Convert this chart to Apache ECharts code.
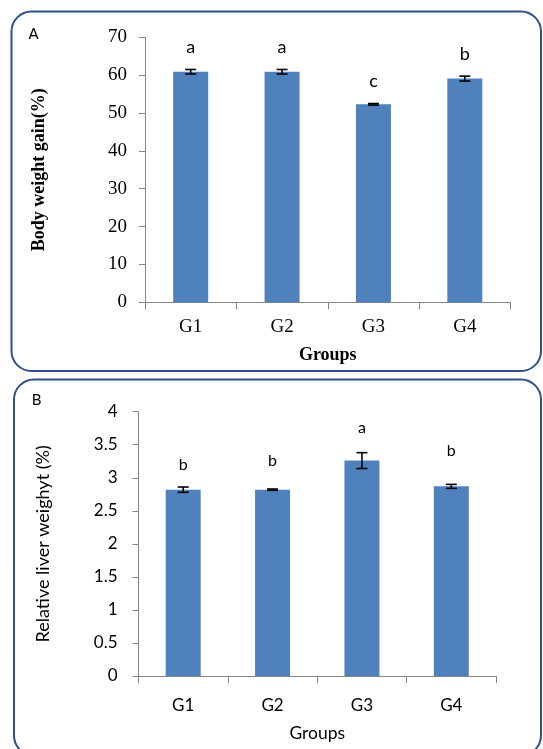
<!DOCTYPE html>
<html>
<head>
<meta charset="utf-8">
<script src="https://cdn.jsdelivr.net/npm/echarts@6/dist/echarts.min.js"></script>
<style>
  html, body { margin: 0; padding: 0; background: #ffffff; }
  #chart { width: 543px; height: 749px; }
</style>
</head>
<body>
<div id="chart"></div>
<script>
// Treatment groups shared by both panels
const groups = ['G1', 'G2', 'G3', 'G4'];

// Panel A: body weight gain (%), mean and error
const weightGain = [60.9, 60.9, 52.3, 59.1];
const weightGainErr = [0.6, 0.6, 0.2, 0.65];
const weightGainLetters = ['a', 'a', 'c', 'b'];
const weightGainTicks = [0, 10, 20, 30, 40, 50, 60, 70];

// Panel B: relative liver weight (%), mean and error
const liverWeight = [2.82, 2.82, 3.26, 2.87];
const liverWeightErr = [0.04, 0.01, 0.12, 0.03];
const liverWeightLetters = ['b', 'b', 'a', 'b'];
const liverWeightTicks = [0, 0.5, 1, 1.5, 2, 2.5, 3, 3.5, 4];

// Pixel gap between the top of each error bar and its significance letter
const letterGapA = [13, 13, 13, 13];
const letterGapB = [14, 20, 17, 26];

const BAR_COLOR = '#4F81BD';
const AXIS_COLOR = '#868686';
const FRAME_COLOR = '#2F4F8F';
const SERIF = '"Liberation Serif", "Times New Roman", serif';
const SANS = 'Lato, "Open Sans", sans-serif';

function errorBars(axisIndex, values, errs) {
  return {
    type: 'custom',
    xAxisIndex: axisIndex,
    yAxisIndex: axisIndex,
    z: 5,
    silent: true,
    encode: { x: 0, y: 1 },
    data: values.map((v, i) => [i, v, errs[i]]),
    renderItem(params, api) {
      const i = api.value(0), v = api.value(1), e = api.value(2);
      const top = api.coord([i, v + e]);
      const bot = api.coord([i, v - e]);
      const hw = 5.5;
      const st = { stroke: '#000000', lineWidth: 1.6 };
      return {
        type: 'group',
        children: [
          { type: 'line', shape: { x1: top[0], y1: top[1], x2: bot[0], y2: bot[1] }, style: st },
          { type: 'line', shape: { x1: top[0] - hw, y1: top[1], x2: top[0] + hw, y2: top[1] }, style: st },
          { type: 'line', shape: { x1: bot[0] - hw, y1: bot[1], x2: bot[0] + hw, y2: bot[1] }, style: st }
        ]
      };
    }
  };
}

function letters(axisIndex, values, errs, marks, gaps, fontSize) {
  return {
    type: 'custom',
    xAxisIndex: axisIndex,
    yAxisIndex: axisIndex,
    z: 6,
    silent: true,
    encode: { x: 0, y: 1 },
    data: values.map((v, i) => [i, v + errs[i]]),
    renderItem(params, api) {
      const p = api.coord([api.value(0), api.value(1)]);
      return {
        type: 'text',
        x: p[0],
        y: p[1] - gaps[params.dataIndex],
        style: {
          text: marks[params.dataIndex],
          textAlign: 'center',
          textVerticalAlign: 'bottom',
          fontFamily: SANS,
          fontSize: fontSize,
          fill: '#000000'
        }
      };
    }
  };
}

function valueAxis(gridIndex, ticks, name, labelFont, labelSize, labelMargin, nameFont, nameSize, nameWeight, nameGap) {
  return {
    type: 'value',
    gridIndex: gridIndex,
    min: ticks[0],
    max: ticks[ticks.length - 1],
    interval: ticks[1] - ticks[0],
    splitLine: { show: false },
    axisLine: { show: true, lineStyle: { color: AXIS_COLOR, width: 1 } },
    axisTick: { show: true, length: 6, lineStyle: { color: AXIS_COLOR, width: 1 } },
    axisLabel: { color: '#000000', fontFamily: labelFont, fontSize: labelSize, margin: labelMargin },
    name: name,
    nameLocation: 'middle',
    nameGap: nameGap,
    nameTextStyle: { color: '#000000', fontFamily: nameFont, fontSize: nameSize, fontWeight: nameWeight }
  };
}

function categoryAxis(gridIndex, labelFont, labelSize, labelMargin, nameFont, nameSize, nameWeight, nameGap) {
  return {
    type: 'category',
    gridIndex: gridIndex,
    data: groups,
    boundaryGap: true,
    axisLine: { show: true, lineStyle: { color: AXIS_COLOR, width: 1 } },
    axisTick: { show: true, length: 7, alignWithLabel: false, lineStyle: { color: AXIS_COLOR, width: 1 } },
    axisLabel: { color: '#000000', fontFamily: labelFont, fontSize: labelSize, margin: labelMargin },
    name: 'Groups',
    nameLocation: 'middle',
    nameGap: nameGap,
    nameTextStyle: { color: '#000000', fontFamily: nameFont, fontSize: nameSize, fontWeight: nameWeight }
  };
}

const chart = echarts.init(document.getElementById('chart'), null, { renderer: 'canvas' });

chart.setOption({
  backgroundColor: '#ffffff',
  animation: false,
  graphic: [
    {
      type: 'rect',
      shape: { x: 11.5, y: 11.5, width: 529.5, height: 359.5, r: 20 },
      style: { fill: 'none', stroke: FRAME_COLOR, lineWidth: 2 }
    },
    {
      type: 'rect',
      shape: { x: 14, y: 379.5, width: 527, height: 376, r: 20 },
      style: { fill: 'none', stroke: FRAME_COLOR, lineWidth: 2 }
    },
    {
      type: 'text', x: 33.5, y: 34,
      style: { text: 'A', fontFamily: SANS, fontSize: 15, fill: '#000000', textAlign: 'center', textVerticalAlign: 'middle' }
    },
    {
      type: 'text', x: 36.5, y: 400,
      style: { text: 'B', fontFamily: SANS, fontSize: 15, fill: '#000000', textAlign: 'center', textVerticalAlign: 'middle' }
    }
  ],
  grid: [
    { left: 145, top: 37.3, width: 365.5, height: 265, containLabel: false },
    { left: 138.5, top: 411.7, width: 357.5, height: 264.3, containLabel: false }
  ],
  xAxis: [
    categoryAxis(0, SERIF, 19, 15, SERIF, 18, 'bold', 44),
    categoryAxis(1, SANS, 17, 21, SANS, 17.5, 'normal', 48)
  ],
  yAxis: [
    valueAxis(0, weightGainTicks, 'Body weight gain(%)', SERIF, 19, 18, SERIF, 18, 'bold', 97),
    valueAxis(1, liverWeightTicks, 'Relative liver weighyt (%)', SANS, 17, 21, SANS, 18, 'normal', 86)
  ],
  series: [
    {
      type: 'bar', xAxisIndex: 0, yAxisIndex: 0,
      data: weightGain, barWidth: 35,
      itemStyle: { color: BAR_COLOR }
    },
    errorBars(0, weightGain, weightGainErr),
    letters(0, weightGain, weightGainErr, weightGainLetters, letterGapA, 18),
    {
      type: 'bar', xAxisIndex: 1, yAxisIndex: 1,
      data: liverWeight, barWidth: 35,
      itemStyle: { color: BAR_COLOR }
    },
    errorBars(1, liverWeight, liverWeightErr),
    letters(1, liverWeight, liverWeightErr, liverWeightLetters, letterGapB, 16)
  ]
});
</script>
</body>
</html>
